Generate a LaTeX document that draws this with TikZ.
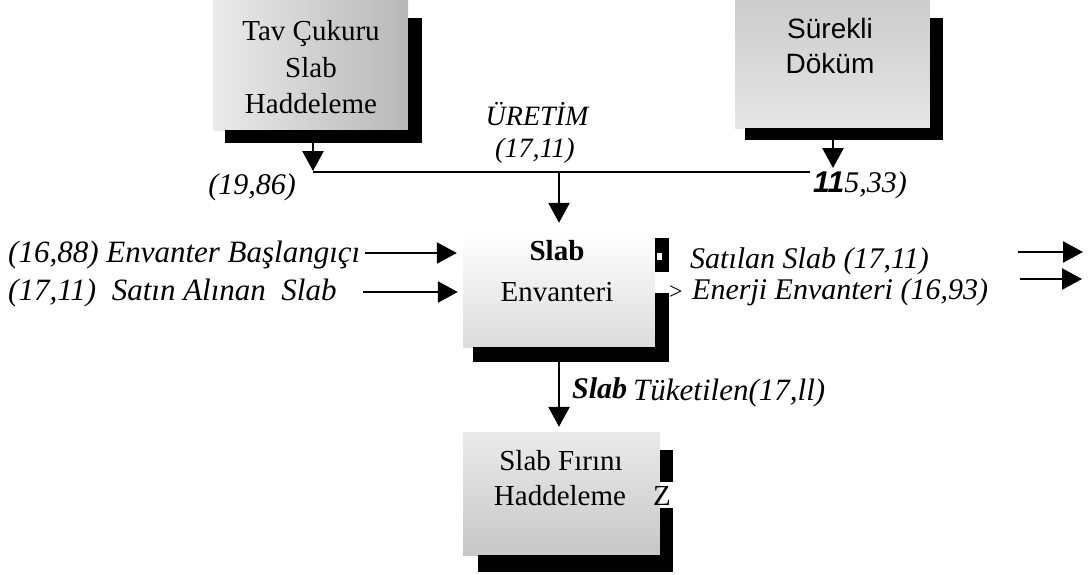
\documentclass[tikz,border=0pt]{standalone}
\usepackage{fontspec}
\setmainfont{Liberation Serif}
\setsansfont{Liberation Sans}
\usetikzlibrary{arrows.meta}
\begin{document}
\begin{tikzpicture}[x=1pt,y=-1pt,
  boxbody/.style={draw=none,inner sep=0pt},
  shadowbar/.style={fill=black},
  boxtxt/.style={font=\fontsize{29}{35}\selectfont,inner sep=0pt,anchor=base},
  sanstxt/.style={font=\sffamily\fontsize{28}{34}\selectfont,inner sep=0pt,anchor=base},
  lbl/.style={font=\fontsize{30}{36}\selectfont\itshape,inner sep=0pt,anchor=base west},
  arr/.style={line width=2.6pt,-{Triangle[width=21pt,length=20pt]}},
  plain/.style={line width=2.8pt}
]
\useasboundingbox (0,0) rectangle (1089,574);

% ---------- box bodies ----------
\node[boxbody,minimum width=195pt,minimum height=130pt,
      left color=black!8,right color=black!28] (tav) at (310.5,65) {};
\node[boxbody,minimum width=195pt,minimum height=128pt,
      top color=black!20,bottom color=black!10] (surek) at (832.5,64) {};
\node[boxbody,minimum width=192pt,minimum height=114pt,
      top color=white,bottom color=black!14] (env) at (559,290) {};
\node[boxbody,minimum width=197pt,minimum height=123pt,
      top color=black!8,bottom color=black!22] (firin) at (561.5,493.5) {};

% ---------- connectors ----------
\coordinate (j1) at (313,172);
\coordinate (j2) at (810,172);
\coordinate (jm) at (559,172);
\coordinate (s2) at (833,168);
\coordinate (la1) at (365,253);
\coordinate (la2) at (363,292);
\coordinate (ra1s) at (1018,252);
\coordinate (ra1e) at (1083,252);
\coordinate (ra2s) at (1020,279);
\coordinate (ra2e) at (1082,279);

\draw[arr] (tav.south -| j1) -- ([yshift=1pt]j1);
\draw[plain] (j1) -- (j2);
\draw[arr] (surek.south -| s2) -- (s2);
\draw[arr,shorten >=10pt] (jm) -- (env.north -| jm);
\draw[arr,shorten >=6pt] (la1) -- (env.west |- la1);
\draw[arr,shorten >=5pt] (la2) -- (env.west |- la2);
\draw[arr] (ra1s) -- (ra1e);
\draw[arr] (ra2s) -- (ra2e);
\draw[arr,shorten >=5pt] (env.south -| jm) -- (firin.north -| jm);

% ---------- shadows ----------
\fill[shadowbar] (408,18) rectangle (422,143);
\fill[shadowbar] (225,130) rectangle (422,143);
\fill[shadowbar] (930,18) rectangle (943,140);
\fill[shadowbar] (745,128) rectangle (943,140);
\fill[shadowbar] (655,238) rectangle (669,272);
\fill[white] (657,253) rectangle (662,260);
\fill[shadowbar] (655,293) rectangle (669,362);
\fill[shadowbar] (473,347) rectangle (669,362);
\fill[shadowbar] (660,450) rectangle (673,482);
\fill[shadowbar] (660,508) rectangle (673,572);
\fill[shadowbar] (478,555) rectangle (673,572);

% ---------- box texts ----------
\node[boxtxt] (t1a) at (311,40) {Tav Çukuru};
\node[boxtxt] (t1b) at (311,77) {Slab};
\node[boxtxt] (t1c) at (311,113) {Haddeleme};
\node[sanstxt] (t2a) at (830,38) {Sürekli};
\node[sanstxt] (t2b) at (830,73) {Döküm};
\node[boxtxt,font=\fontsize{29}{35}\selectfont\bfseries] (t3a) at (557,260) {Slab};
\node[boxtxt] (t3b) at (557,301) {Envanteri};
\node[boxtxt] (t4a) at (561,470) {Slab Fırını};
\node[boxtxt] (t4b) at (560,505) {Haddeleme};
\node[boxtxt] (t4z) at (662,505) {Z};
\node[inner sep=0pt,anchor=base,font=\fontsize{24}{28}\selectfont] (gt) at (676,299) {>};

% ---------- labels ----------
\node[lbl,anchor=base,font=\fontsize{28}{32}\selectfont\itshape] (uretim) at (537,125) {ÜRETİM};
\node[lbl,anchor=base,font=\fontsize{28}{32}\selectfont\itshape] (uretimv) at (535,157) {(17,11)};
\node[lbl,anchor=base] (v1986) at (252,194) {(19,86)};
\node[lbl] (v1533) at (813,192) {{\sffamily\bfseries 11}5,33)};
\node[lbl,font=\fontsize{31}{36}\selectfont\itshape] (lin1) at (8,262) {(16,88) Envanter Başlangıçı};
\node[lbl,font=\fontsize{31}{36}\selectfont\itshape] (lin2) at (8,300) {(17,11)\ \ Satın Alınan\ \ Slab};
\node[lbl] (rout1) at (690,268) {Satılan Slab (17,11)};
\node[lbl] (rout2) at (692,299) {Enerji Envanteri (16,93)};
\node[lbl,font=\fontsize{30}{36}\selectfont\bfseries\itshape] (tk1) at (572,398) {Slab};
\node[lbl,font=\fontsize{31}{36}\selectfont\itshape] (tk2) at (633,400) {Tüketilen(17,ll)};
\end{tikzpicture}
\end{document}
